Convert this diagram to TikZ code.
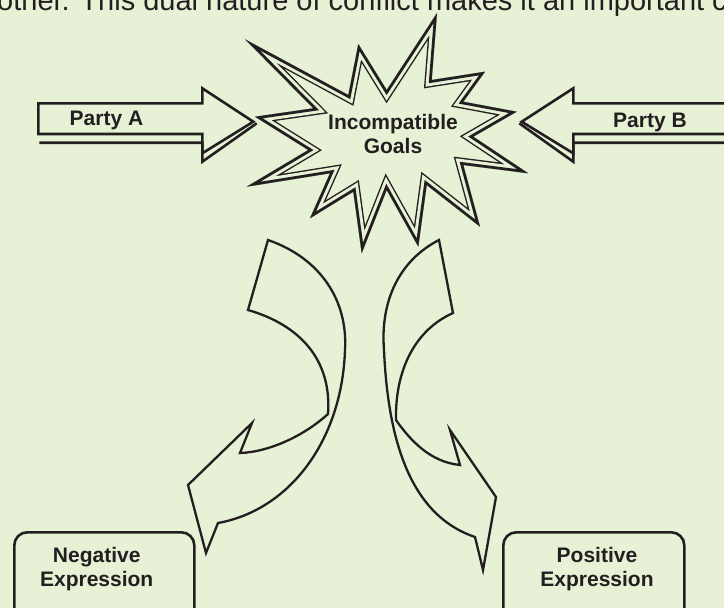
\documentclass[tikz,border=0pt]{standalone}
\usepackage{fontspec}
\setmainfont{Liberation Sans}
\definecolor{bg}{RGB}{230,241,213}
\definecolor{ink}{RGB}{35,31,32}
\begin{document}
\begin{tikzpicture}[x=1pt,y=-1pt,
  outline/.style={draw=ink, line width=2.6pt, line join=miter, miter limit=20},
  curvearrow/.style={draw=ink, line width=2.3pt, line join=miter, miter limit=20},
  box/.style={draw=ink, line width=2.6pt, rounded corners=13pt, inner sep=0pt},
  label/.style={font=\bfseries\fontsize{21}{24}\selectfont, text=ink, inner sep=0pt, align=center},
]
\fill[bg] (0,0) rectangle (724,608);
\useasboundingbox (0,0) rectangle (724,608);
\clip (0,0) rectangle (724,608);

% line of running text above the figure
\node[anchor=base west, inner sep=0pt, font=\fontsize{29}{34}\selectfont, text=ink] (caption) at (-3,10)
  {other. This dual nature of conflict makes it an important c};

% starburst with a thick-thin double outline
\def\burst{(437,13) -- (431.7,80) -- (485,71.7) -- (463.3,101.7) -- (516.7,111.7) -- (473.3,136.7)
  -- (528.3,173.3) -- (463.3,165) -- (480,226.7) -- (426.7,185) -- (418.3,246.7) -- (386.7,190)
  -- (361.7,253.3) -- (353.3,191.7) -- (310,218.3) -- (330,173.3) -- (246.7,186.7) -- (308.3,150)
  -- (255,116.7) -- (313.3,108.3) -- (245,39.3) -- (348.3,95) -- (358.3,44) -- (386.7,90) -- cycle}
\begin{scope}
  \clip \burst;
  \draw[ink, line width=14.2pt, line join=miter, miter limit=40] \burst;
  \draw[bg, line width=11.4pt, line join=miter, miter limit=40] \burst;
  \draw[ink, line width=5.4pt, line join=miter, miter limit=40] \burst;
\end{scope}
\node[label] (goals) at (393,133.8) {Incompatible\\Goals};

% block arrow for party A, with its lower shadow edge
\draw[outline] (38.3,103.3) -- (202.3,103.3) -- (202.3,88.3) -- (253.3,121.7) -- (202.3,153.3)
  -- (202.3,134) -- (38.3,134) -- cycle;
\draw[outline] (39.3,142.7) -- (202.3,142.7) -- (202.3,161.7) -- (256.7,123.3);
\node[label, anchor=base] (partyA) at (106.5,125) {Party A};

% block arrow for party B, with its lower shadow edge
\draw[outline] (730,103.3) -- (573.3,103.3) -- (573.3,88.3) -- (521.7,121.7) -- (573.3,153.3)
  -- (573.3,134) -- (730,134);
\draw[outline] (730,142.7) -- (573.3,142.7) -- (573.3,161.7) -- (519.3,123.3);
\node[label, anchor=base] (partyB) at (650,127) {Party B};

% curved arrow bending down to the left
\draw[curvearrow] (268,240) -- (248,310)
  .. controls (300,325) and (332,360) .. (328,414)
  .. controls (305,435) and (270,452) .. (240,453)
  -- (252,423) -- (188,485) -- (206,553) -- (218,523)
  .. controls (290,510) and (342,440) .. (345,350)
  .. controls (348,300) and (320,258) .. (268,240) -- cycle;

% curved arrow bending down to the right
\draw[curvearrow] (439,240) -- (453,313)
  .. controls (415,330) and (395,370) .. (396,420)
  .. controls (410,440) and (430,462) .. (460,465)
  -- (450,430) -- (496,497) -- (483,570) -- (475,537)
  .. controls (410,515) and (388,440) .. (384,350)
  .. controls (380,300) and (400,260) .. (439,240) -- cycle;

% outcome boxes
\node[box, anchor=north west, minimum width=180pt, minimum height=95pt] (negbox) at (13,531) {};
\node[label] (neg) at (96.7,569.3) {Negative\\Expression};
\node[box, anchor=north west, minimum width=181pt, minimum height=95pt] (posbox) at (502,531) {};
\node[label] (pos) at (597,569.3) {Positive\\Expression};
\end{tikzpicture}
\end{document}
